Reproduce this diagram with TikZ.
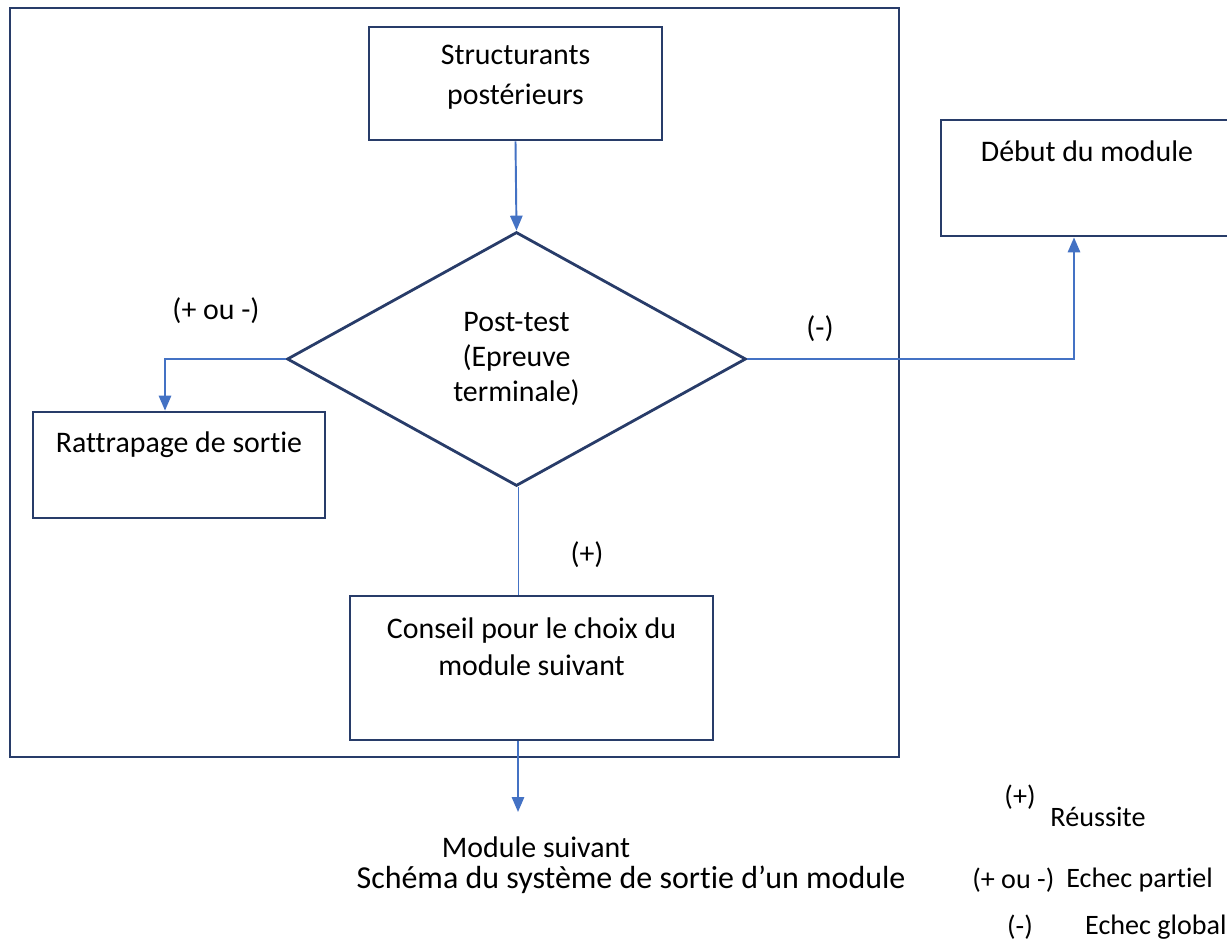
\documentclass[tikz,border=0pt]{standalone}
\usepackage{fontspec}
\setmainfont{Carlito}[Ligatures=NoCommon]
\usetikzlibrary{arrows.meta,shapes.geometric,positioning}
\definecolor{cadrebleu}{RGB}{40,60,105}
\definecolor{flechebleu}{RGB}{68,114,196}
\tikzset{
  boite/.style={draw=cadrebleu, line width=1.6pt, rectangle, inner sep=0pt},
  fleche/.style={draw=flechebleu, line width=1.1pt, -{Triangle[width=7pt,length=8.5pt]}},
  trait/.style={draw=flechebleu, line width=1.1pt},
  texte/.style={font=\fontsize{17}{21}\selectfont, align=center, inner sep=0pt},
  legende/.style={font=\fontsize{16}{21}\selectfont, inner sep=0pt},
}

\begin{document}
\begin{tikzpicture}[x=0.02cm,y=-0.02cm]
    \useasboundingbox (0,0) rectangle (1227,943);

    % Cadre du module
    \draw[cadrebleu, line width=1.6pt] (10,8) rectangle (899,757);

    % Structurants posterieurs
    \node[boite, minimum width=5.86cm, minimum height=2.26cm] (struct) at (515.5,83.5) {};
    \node[texte, font=\fontsize{17}{22.7}\selectfont] (structtxt) at (515.5,77) {Structurants\\postérieurs};

    % Post-test
    \node[draw=cadrebleu, line width=1.6pt, shape=diamond, aspect=1.81,
          minimum width=9.18cm, minimum height=5.08cm, inner sep=0pt,
          texte, font=\fontsize{17}{19.8}\selectfont] (test) at (516.5,359) {Post-test\\(Epreuve\\terminale)};

    % Rattrapage
    \node[boite, minimum width=5.84cm, minimum height=2.12cm] (ratt) at (179,465) {};
    \node[texte] (ratttxt) at (179,445) {Rattrapage de sortie};

    % Debut du module
    \node[boite, minimum width=5.88cm, minimum height=2.32cm] (debut) at (1088,178) {};
    \node[texte] (debuttxt) at (1087,151) {Début du module};

    % Conseil
    \node[boite, minimum width=7.26cm, minimum height=2.88cm] (conseil) at (531.5,668) {};
    \node[texte] (conseiltxt) at (531.5,646.5) {Conseil pour le choix du\\module suivant};

    % Connecteurs
    \draw[fleche] (struct.south) -- (test.north);
    \draw[fleche] (test.west) -| ([xshift=-0.28cm]ratt.north);
    \draw[fleche] (test.east) -| ([xshift=-0.28cm]debut.south);
    \draw[trait] ([xshift=0.04cm]test.south) -- ([xshift=0.04cm]test.south |- conseil.north);
    \coordinate (fin) at (518,812);
    \draw[fleche] (fin |- conseil.south) -- (fin);

    % Etiquettes
    \node[texte] (moinsplus) at (216,311) {(+ ou -)};
    \node[texte] (moins) at (820,329) {(-)};
    \node[texte] (plus) at (587,555) {(+)};
    \node[texte] (suivant) at (536,847) {Module suivant};
    \node[texte, font=\fontsize{18.2}{21}\selectfont] (titre) at (631,880) {Schéma du système de sortie d’un module};

    % Legende
    \node[legende] (lgplus) at (1020,797) {(+)};
    \node[legende] (lgreussite) at (1098,817) {Réussite};
    \node[legende, anchor=west] (lgmoinsplus) at (972,880) {(+ ou -)};
    \node[legende, anchor=west] (lgpartiel) at (1066,880) {Echec partiel};
    \node[legende] (lgmoins) at (1020,927) {(-)};
    \node[legende, anchor=east] (lgglobal) at (1227,927) {Echec global};
\end{tikzpicture}
\end{document}
